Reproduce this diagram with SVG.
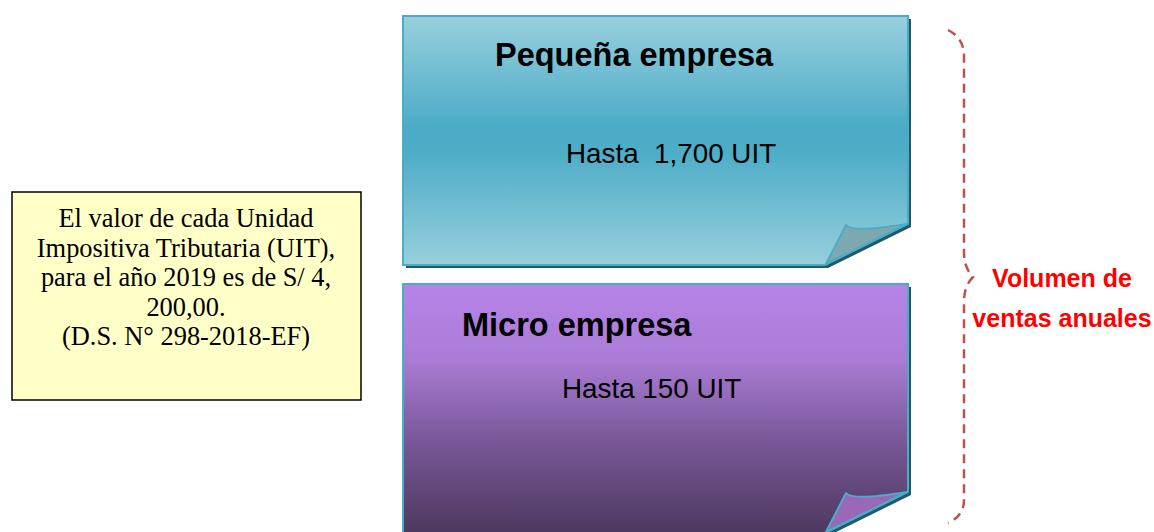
<svg xmlns="http://www.w3.org/2000/svg" width="1154" height="532" viewBox="0 0 1154 532">
<defs>
<linearGradient id="gBlue" x1="0" y1="0" x2="0" y2="1">
<stop offset="0" stop-color="#98d0de"/>
<stop offset="0.45" stop-color="#4babc6"/>
<stop offset="0.55" stop-color="#4eadc7"/>
<stop offset="1" stop-color="#97cfdd"/>
</linearGradient>
<linearGradient id="gPurple" x1="0" y1="0" x2="0" y2="1">
<stop offset="0" stop-color="#b684e8"/>
<stop offset="0.3" stop-color="#aa7cd6"/>
<stop offset="0.62" stop-color="#7b5899"/>
<stop offset="1" stop-color="#4d3960"/>
</linearGradient>
<style>
.card{stroke:#4bacc6;stroke-width:2;}
.shadow{fill:#22596a;}
.flap{stroke:#4bacc6;stroke-width:2;stroke-linejoin:round;}
.title{font-family:"Liberation Sans",Arial,sans-serif;font-weight:bold;font-size:32.5px;fill:#000;}
.sub{font-family:"Liberation Sans",Arial,sans-serif;font-size:27.8px;fill:#000;}
.note{font-family:"Liberation Serif","Times New Roman",serif;font-size:26.4px;fill:#000;text-anchor:middle;}
.red{font-family:"Liberation Sans",Arial,sans-serif;font-weight:bold;font-size:25px;fill:#ff0000;text-anchor:middle;}
</style>
</defs>
<rect width="1154" height="532" fill="#ffffff"/>

<g id="note">
<rect x="12" y="192" width="349" height="208" fill="#ffffc8" stroke="#000" stroke-width="1.5"/>
<text class="note" x="186" y="227">El valor de cada Unidad</text>
<text class="note" x="186" y="257">Impositiva Tributaria (UIT),</text>
<text class="note" x="186" y="286">para el año 2019 es de S/ 4,</text>
<text class="note" x="186" y="316">200,00.</text>
<text class="note" x="186" y="345">(D.S. N° 298-2018-EF)</text>
</g>

<g id="pequena">
<path class="shadow" d="M406,19 H911 V227 L828,268 H406 Z"/>
<path class="card" fill="url(#gBlue)" d="M403,16 H908 V224 L825,265 H403 Z"/>
<path class="flap" fill="#7ea8b0" d="M846,225 Q852,233 907,224 L826,264 Z"/>
<text class="title" x="495" y="66">Pequeña empresa</text>
<text class="sub" x="566" y="163" xml:space="preserve">Hasta  1,700 UIT</text>
</g>

<g id="micro">
<path class="shadow" d="M406,287 H911 V495 L828,536 H406 Z"/>
<path class="card" fill="url(#gPurple)" d="M403,284 H908 V492 L825,533 H403 Z"/>
<path class="flap" fill="#9a68b9" d="M846,493 Q852,501 907,492 L826,532 Z"/>
<text class="title" x="462" y="336">Micro empresa</text>
<text class="sub" x="562" y="398">Hasta 150 UIT</text>
</g>

<g id="connectors">
<path d="M948,30 Q964,38 964,56 V252 Q964,268 973,277 Q964,286 964,302 V500 Q964,516 948,523" fill="none" stroke="#c0504d" stroke-width="2.5" stroke-dasharray="9,6"/>
</g>

<g id="label">
<text class="red" x="1062" y="287">Volumen de</text>
<text class="red" x="1062" y="327">ventas anuales</text>
</g>
</svg>
